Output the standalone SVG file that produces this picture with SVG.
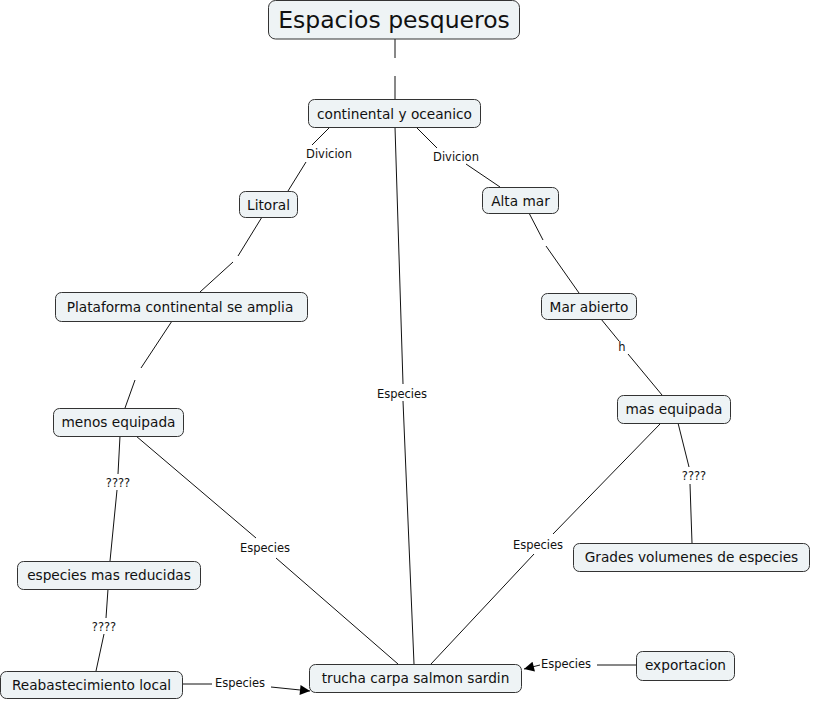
<svg xmlns="http://www.w3.org/2000/svg" width="813" height="701" viewBox="0 0 813 701">
<defs>
<marker id="arr" viewBox="0 0 10 10" refX="10" refY="5" markerWidth="12" markerHeight="10" markerUnits="userSpaceOnUse" orient="auto">
<path d="M0,0 L10,5 L0,10 z" fill="#000"/>
</marker>
</defs>
<style>
.n rect{fill:#eef3f5;stroke:#333;stroke-width:1;}
.n text{font-family:"DejaVu Sans",Verdana,sans-serif;font-size:13.7px;fill:#111;text-anchor:middle;}
.c line{stroke:#111;stroke-width:1;}
.c text{font-family:"DejaVu Sans",Verdana,sans-serif;font-size:11.5px;fill:#111;text-anchor:middle;}
</style>
<rect width="813" height="701" fill="#fff"/>
<g id="connectors" class="c">
<line x1="395" y1="39" x2="395" y2="58"/>
<line x1="395" y1="76" x2="395" y2="99"/>
<line x1="330" y1="127" x2="312" y2="145"/>
<line x1="306" y1="162" x2="288" y2="191"/>
<text x="329" y="158">Divicion</text>
<line x1="416" y1="127" x2="437" y2="148"/>
<line x1="466" y1="164" x2="500" y2="187"/>
<text x="456" y="161">Divicion</text>
<line x1="395" y1="127" x2="403" y2="384"/>
<line x1="403" y1="401" x2="414" y2="664"/>
<text x="402" y="398">Especies</text>
<line x1="262" y1="217" x2="238" y2="256"/>
<line x1="233" y1="262" x2="200" y2="292"/>
<line x1="529" y1="213" x2="543" y2="240"/>
<line x1="546" y1="246" x2="579" y2="293"/>
<line x1="172" y1="321" x2="141" y2="368"/>
<line x1="135" y1="380" x2="125" y2="408"/>
<line x1="601" y1="319" x2="619" y2="341"/>
<line x1="628" y1="354" x2="662" y2="395"/>
<text x="622" y="351">h</text>
<line x1="678" y1="423" x2="689" y2="467"/>
<line x1="690" y1="484" x2="692" y2="543"/>
<text x="694" y="480">????</text>
<line x1="660" y1="424" x2="553" y2="534"/>
<line x1="534" y1="554" x2="431" y2="664"/>
<text x="538" y="549">Especies</text>
<line x1="120" y1="436" x2="118" y2="474"/>
<line x1="117" y1="490" x2="110" y2="561"/>
<text x="118" y="487">????</text>
<line x1="136" y1="436" x2="256" y2="538"/>
<line x1="276" y1="558" x2="398" y2="664"/>
<text x="265" y="552">Especies</text>
<line x1="108" y1="589" x2="106" y2="618"/>
<line x1="104" y1="634" x2="96" y2="671"/>
<text x="104" y="631">????</text>
<line x1="183" y1="684" x2="212" y2="684"/>
<text x="240" y="687">Especies</text>
<line x1="271" y1="687" x2="310" y2="691" marker-end="url(#arr)"/>
<line x1="636" y1="665" x2="597" y2="665"/>
<text x="566" y="668">Especies</text>
<line x1="540" y1="665" x2="524" y2="669" marker-end="url(#arr)"/>
</g>
<g id="n-title" class="n"><rect x="268.5" y="0.5" width="251" height="38.5" rx="7"/><text x="394" y="28" style="font-size:23.5px">Espacios pesqueros</text></g>
<g id="n-continental" class="n"><rect x="308.5" y="99.5" width="172" height="28" rx="6"/><text x="394.5" y="118.5">continental y oceanico</text></g>
<g id="n-litoral" class="n"><rect x="239.5" y="191.5" width="58" height="26" rx="6"/><text x="268.5" y="209.5">Litoral</text></g>
<g id="n-altamar" class="n"><rect x="482.5" y="187.5" width="76" height="26" rx="6"/><text x="520.5" y="205.5">Alta mar</text></g>
<g id="n-plataforma" class="n"><rect x="55.5" y="292.5" width="252" height="29" rx="6"/><text x="180" y="311.5">Plataforma continental se amplia</text></g>
<g id="n-marabierto" class="n"><rect x="541.5" y="293.5" width="95" height="26" rx="6"/><text x="589" y="311.5">Mar abierto</text></g>
<g id="n-masequipada" class="n"><rect x="617.5" y="395.5" width="113" height="28" rx="6"/><text x="674" y="414">mas equipada</text></g>
<g id="n-menosequipada" class="n"><rect x="53.5" y="408.5" width="130" height="28" rx="6"/><text x="118.5" y="427">menos equipada</text></g>
<g id="n-especiesred" class="n"><rect x="17.5" y="561.5" width="183" height="28" rx="6"/><text x="109" y="580">especies mas reducidas</text></g>
<g id="n-reabast" class="n"><rect x="0.5" y="671.5" width="182" height="27" rx="6"/><text x="91.5" y="690">Reabastecimiento local</text></g>
<g id="n-trucha" class="n"><rect x="309.5" y="664.5" width="212" height="28" rx="6"/><text x="415.5" y="683">trucha carpa salmon sardin</text></g>
<g id="n-grades" class="n"><rect x="573.5" y="543.5" width="236" height="28" rx="6"/><text x="691.5" y="562">Grades volumenes de especies</text></g>
<g id="n-export" class="n"><rect x="636.5" y="651.5" width="98" height="29" rx="6"/><text x="685.5" y="670">exportacion</text></g>
</svg>
